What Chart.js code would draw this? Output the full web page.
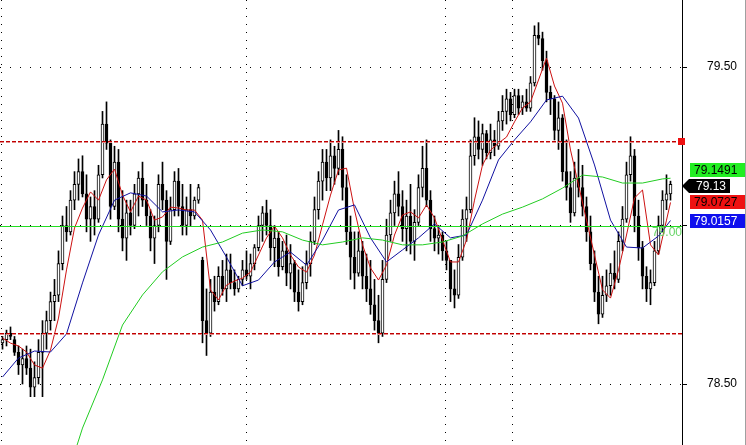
<!DOCTYPE html>
<html><head><meta charset="utf-8">
<script src="https://cdn.jsdelivr.net/npm/chart.js@4.4.0/dist/chart.umd.min.js"></script>
<style>html,body{margin:0;padding:0;background:#fff;overflow:hidden}canvas{display:block}</style>
</head><body>
<canvas id="c" width="746" height="445"></canvas>
<script>
// ---- data (candle index 0..167) ----
const opens = [78.63,78.64,78.66,78.64,78.60,78.56,78.58,78.55,78.49,78.52,78.60,78.66,78.70,78.76,78.78,78.88,79.00,78.98,79.08,79.13,
79.17,79.10,79.02,79.06,79.02,79.16,79.32,79.26,79.06,79.20,79.02,78.96,79.04,79.00,79.10,79.15,79.08,79.03,78.96,79.00,
79.13,79.08,78.95,79.05,79.14,79.06,79.00,79.05,79.03,79.08,78.89,78.70,78.66,78.79,78.76,78.84,78.80,78.86,78.82,78.80,
78.83,78.86,78.84,78.88,78.93,79.00,79.04,79.00,78.93,78.96,78.87,78.92,78.85,78.88,78.79,78.76,78.82,78.88,78.95,79.05,
79.14,79.20,79.15,79.22,79.18,79.24,79.12,78.98,78.90,78.85,78.92,78.84,78.80,78.75,78.70,78.66,78.83,78.97,79.04,79.10,
79.06,78.99,79.03,78.95,79.01,79.12,79.18,79.08,78.99,78.96,78.97,78.92,78.89,78.80,78.78,78.90,79.02,79.05,79.22,79.28,
79.24,79.29,79.23,79.27,79.25,79.33,79.36,79.40,79.35,79.41,79.37,79.39,79.37,79.45,79.60,79.59,79.52,79.42,79.40,79.30,
79.34,79.17,79.12,79.04,79.15,79.12,79.06,78.98,78.88,78.79,78.72,78.78,78.81,78.85,78.83,78.95,79.02,79.16,79.22,79.03,
78.93,78.84,78.80,78.82,78.92,79.00,79.08,79.10];
const highs = [78.65,78.67,78.68,78.65,78.62,78.61,78.62,78.61,78.57,78.64,78.70,78.73,78.79,78.83,78.92,79.03,79.06,79.11,79.17,79.21,
79.22,79.16,79.09,79.11,79.19,79.36,79.39,79.27,79.25,79.24,79.11,79.08,79.08,79.13,79.17,79.20,79.13,79.05,79.03,79.16,
79.20,79.11,79.09,79.17,79.18,79.13,79.09,79.13,79.09,79.13,78.90,78.80,78.83,78.84,78.87,78.89,78.91,78.91,78.86,78.84,
78.89,78.92,78.91,78.94,79.03,79.06,79.08,79.05,79.00,78.98,78.95,78.97,78.94,78.89,78.86,78.87,78.92,78.98,79.09,79.17,
79.24,79.24,79.27,79.25,79.30,79.28,79.16,79.03,78.98,78.98,78.95,78.91,78.89,78.83,78.78,78.89,79.02,79.08,79.14,79.17,
79.11,79.08,79.13,79.05,79.16,79.25,79.27,79.11,79.03,79.00,78.98,78.95,78.89,78.86,78.94,79.05,79.09,79.27,79.34,79.33,
79.32,79.30,79.32,79.30,79.36,79.41,79.43,79.42,79.43,79.43,79.41,79.43,79.47,79.63,79.64,79.61,79.55,79.44,79.41,79.39,
79.35,79.27,79.17,79.20,79.24,79.19,79.09,79.03,78.92,78.84,78.84,78.86,78.88,78.92,78.98,79.06,79.20,79.28,79.24,79.08,
78.95,78.87,78.86,78.95,79.03,79.11,79.16,79.14];
const lows = [78.61,78.62,78.64,78.59,78.53,78.50,78.53,78.46,78.46,78.50,78.46,78.61,78.67,78.70,78.76,78.86,78.95,78.97,79.05,79.08,
79.09,78.98,78.95,78.97,79.01,79.15,79.24,79.02,79.05,78.98,78.92,78.89,78.97,78.99,79.03,79.06,79.00,78.92,78.88,78.98,
79.05,78.83,78.94,79.03,79.03,78.97,78.97,79.00,79.02,79.07,78.63,78.59,78.65,78.73,78.75,78.78,78.76,78.80,78.78,78.79,
78.81,78.83,78.80,78.86,78.92,78.95,78.97,78.89,78.87,78.84,78.86,78.81,78.80,78.76,78.73,78.75,78.80,78.84,78.94,79.02,
79.08,79.11,79.11,79.13,79.16,79.08,78.94,78.83,78.80,78.84,78.80,78.76,78.72,78.67,78.63,78.65,78.82,78.95,79.00,79.03,
78.95,78.92,78.91,78.89,79.00,79.09,79.06,78.95,78.92,78.91,78.89,78.86,78.76,78.74,78.77,78.89,78.95,79.04,79.19,79.21,
79.19,79.21,79.21,79.22,79.24,79.30,79.32,79.33,79.34,79.35,79.35,79.36,79.36,79.44,79.57,79.49,79.39,79.35,79.27,79.24,
79.14,79.08,79.01,79.03,79.09,79.03,78.95,78.86,78.76,78.69,78.71,78.76,78.78,78.80,78.82,78.92,79.01,79.14,78.98,78.89,
78.80,78.76,78.75,78.81,78.91,78.98,79.05,79.08];
const closes = [78.64,78.66,78.65,78.60,78.56,78.58,78.55,78.49,78.52,78.60,78.66,78.70,78.76,78.78,78.88,79.00,78.98,79.08,79.13,79.17,
79.10,79.02,79.06,79.02,79.16,79.32,79.26,79.06,79.20,79.02,78.96,79.04,79.00,79.10,79.15,79.08,79.03,78.96,79.00,79.13,
79.08,78.95,79.05,79.14,79.06,79.00,79.05,79.03,79.08,79.12,78.70,78.66,78.79,78.76,78.84,78.80,78.86,78.82,78.80,78.83,
78.86,78.84,78.88,78.93,79.00,79.04,79.00,78.93,78.96,78.87,78.92,78.85,78.88,78.79,78.76,78.82,78.88,78.95,79.05,79.14,
79.20,79.15,79.22,79.18,79.24,79.12,78.98,78.90,78.85,78.92,78.84,78.80,78.75,78.70,78.66,78.83,78.97,79.04,79.10,79.06,
78.99,79.03,78.95,79.01,79.12,79.18,79.08,78.99,78.96,78.97,78.92,78.89,78.80,78.78,78.90,79.02,79.05,79.22,79.28,79.24,
79.29,79.23,79.27,79.25,79.33,79.36,79.40,79.35,79.41,79.37,79.39,79.37,79.45,79.60,79.59,79.52,79.42,79.40,79.30,79.34,
79.17,79.12,79.04,79.15,79.12,79.06,78.98,78.88,78.79,78.72,78.78,78.81,78.85,78.83,78.95,79.02,79.16,79.22,79.03,78.93,
78.84,78.80,78.82,78.92,79.00,79.08,79.10,79.13];

// fast moving average (red), sampled at candle indices
const redX = [0,2,4,6,8,10,12,14,16,18,20,22,24,26,28,30,32,34,36,38,40,42,44,46,48,50,52,54,56,58,60,62,64,66,68,70,72,74,76,78,80,82,84,86,88,90,92,94,96,98,100,102,104,106,108,110,112,114,116,118,120,122,124,126,128,130,132,134,136,138,140,142,144,146,148,150,152,154,156,158,160,162,164,166,167];
const redMA = [78.645,78.629,78.620,78.601,78.560,78.550,78.607,78.708,78.860,78.992,79.055,79.106,79.080,79.144,79.178,79.096,79.043,79.093,79.080,79.017,
79.027,79.058,79.055,79.049,79.049,79.017,78.797,78.765,78.812,78.825,78.834,78.853,78.907,78.961,78.998,78.961,78.907,78.869,78.853,78.907,
79.002,79.096,79.175,79.181,79.049,78.939,78.866,78.828,78.875,78.970,79.033,79.043,79.024,79.065,79.024,78.954,78.885,78.885,78.954,79.080,
79.191,79.238,79.260,79.279,79.327,79.371,79.390,79.459,79.528,79.440,79.386,79.238,79.128,79.017,78.907,78.797,78.771,78.860,78.970,79.087,
79.112,78.939,78.907,79.017,79.0727];
// medium moving average (blue)
const blueX = [0,4,8,12,16,20,24,28,32,36,40,44,48,52,56,60,64,68,72,76,80,84,88,92,96,100,104,108,112,116,120,124,128,132,136,140,144,148,152,156,160,164,167];
const blueMA = [78.522,78.582,78.604,78.601,78.658,78.819,78.970,79.080,79.103,79.093,79.043,79.049,79.043,78.986,78.900,78.810,78.828,78.885,78.916,78.875,
78.954,79.049,79.065,78.961,78.885,78.923,78.961,79.005,78.961,78.970,79.080,79.207,79.270,79.327,79.396,79.408,79.339,79.191,79.017,78.932,
78.929,78.967,79.0157];
// slow moving average (green)
const greenX = [18,20,25,30,35,40,45,50,55,60,65,70,75,80,85,90,95,100,105,110,115,120,125,130,135,140,145,150,155,160,165,167];
const greenMA = [78.282,78.361,78.513,78.686,78.781,78.854,78.901,78.932,78.948,78.976,78.986,78.980,78.954,78.939,78.948,78.961,78.954,78.939,78.939,78.948,
78.967,79.005,79.036,79.058,79.084,79.118,79.159,79.153,79.134,79.134,79.147,79.1491];

const priceTicks = [78.5, 79.0, 79.5];
const labelledTicks = [78.5, 79.5];
const sessionBreaks = [-0.375, 60.875, 110.625, 127.375];
const dashedLevels = [79.2666, 78.6609];
const refLevel = 79.00;
const yMin = 78.3076, yMax = 79.7114;

// ---- build ----
const N = closes.length;
const wicks = [], bodies = [], bodyColors = [];
for (let i = 0; i < N; i++) {
  wicks.push({x: i, y: [lows[i], highs[i]]});
  bodies.push({x: i, y: [opens[i], closes[i]]});
  bodyColors.push(closes[i] >= opens[i] ? '#ffffff' : '#000000');
}
const pts = (xs, ys) => xs.map((x, i) => ({x, y: ys[i]}));
const FONT = '"Liberation Sans", Arial, sans-serif';

const overlay = {
  id: 'overlay',
  afterDatasetsDraw(chart) {
    const {ctx, chartArea: a, scales: {y}} = chart;
    ctx.save();
    // red dashed levels
    dashedLevels.forEach(v => {
      const py = Math.round(y.getPixelForValue(v));
      for (let x = a.left; x < a.right; x += 6) {
        const w = Math.min(4, a.right - x);
        ctx.fillStyle = '#c00000'; ctx.fillRect(x, py, w, 1);
        ctx.fillStyle = '#e48a8a'; ctx.fillRect(x, py + 1, w, 1);
      }
    });
    // green reference line
    const gy = Math.round(y.getPixelForValue(refLevel));
    ctx.fillStyle = '#22dd22';
    ctx.fillRect(a.left, gy, a.right - a.left, 1);
    ctx.fillStyle = '#66d466'; ctx.font = '12px ' + FONT; ctx.textAlign = 'right'; ctx.textBaseline = 'top';
    ctx.fillText(refLevel.toFixed(2), a.right, gy + 1);
    ctx.restore();
  },
  afterDraw(chart) {
    const {ctx, chartArea: a, scales: {y}} = chart;
    ctx.save();
    // red marker on axis
    const ry = Math.round(y.getPixelForValue(dashedLevels[0]));
    ctx.fillStyle = '#ee1111';
    ctx.fillRect(a.right - 4, ry - 3, 7, 7);
    ctx.font = '12px ' + FONT; ctx.textBaseline = 'middle'; ctx.textAlign = 'left';
    const bx = a.right + 8, bw = 56, bh = 14;
    const box = (val, txt, bg, fg, dy) => {
      const cy = Math.round(y.getPixelForValue(val)) + dy;
      ctx.fillStyle = bg; ctx.fillRect(bx, cy - bh / 2, bw, bh);
      ctx.fillStyle = fg; ctx.fillText(txt, bx + 4, cy + 1);
    };
    const gLast = greenMA[greenMA.length - 1], rLast = redMA[redMA.length - 1], bLast = blueMA[blueMA.length - 1], cLast = closes[N - 1];
    box(gLast, gLast.toFixed(4), '#22ee22', '#000', -8);
    box(rLast, rLast.toFixed(4), '#ee1111', '#000', 0);
    box(bLast, bLast.toFixed(4), '#1010ee', '#fff', 0);
    // black price tag
    const cy = Math.round(y.getPixelForValue(cLast)) + 2;
    ctx.fillStyle = '#000';
    ctx.beginPath();
    ctx.moveTo(a.right, cy); ctx.lineTo(a.right + 7, cy - 7); ctx.lineTo(a.right + 48, cy - 7);
    ctx.lineTo(a.right + 48, cy + 7); ctx.lineTo(a.right + 7, cy + 7); ctx.closePath(); ctx.fill();
    ctx.fillStyle = '#fff'; ctx.fillText(cLast.toFixed(2), a.right + 14, cy + 1);
    // right frame
    ctx.fillStyle = '#a0a0a0';
    ctx.fillRect(745, 0, 1, 445);
    ctx.restore();
  }
};

new Chart(document.getElementById('c'), {
  type: 'bar',
  data: {
    datasets: [
      {type: 'line', data: pts(greenX, greenMA), borderColor: '#22cc22', borderWidth: 1, pointRadius: 0, order: 0},
      {type: 'line', data: pts(blueX, blueMA), borderColor: '#1010a0', borderWidth: 1, pointRadius: 0, order: 0},
      {type: 'line', data: pts(redX, redMA), borderColor: '#cc1111', borderWidth: 1, pointRadius: 0, order: 0},
      {type: 'bar', data: bodies, backgroundColor: bodyColors, borderColor: '#000', borderWidth: 1, borderSkipped: false, barThickness: 3, minBarLength: 1, grouped: false, order: 1},
      {type: 'bar', data: wicks, backgroundColor: '#000', borderWidth: 0, barThickness: 1, grouped: false, order: 2}
    ]
  },
  options: {
    responsive: false, animation: false, events: [],
    layout: {padding: 0},
    plugins: {legend: {display: false}, tooltip: {enabled: false}},
    scales: {
      x: {
        type: 'linear', min: -0.625, max: 169.875, offset: false,
        afterBuildTicks: s => { s.ticks = sessionBreaks.map(v => ({value: v})); },
        afterFit: s => { s.height = 0; s.paddingLeft = 0; s.paddingRight = 0; },
        ticks: {display: false},
        grid: {color: '#000', lineWidth: 1, drawTicks: false, offset: false},
        border: {display: false, dash: [1, 7]}
      },
      y: {
        position: 'right', min: yMin, max: yMax, beginAtZero: false,
        afterBuildTicks: s => { s.ticks = priceTicks.map(v => ({value: v})); },
        afterFit: s => { s.width = 64; s.paddingTop = 0; s.paddingBottom = 0; },
        ticks: {callback: v => labelledTicks.includes(Number(v)) ? Number(v).toFixed(2) : '', color: '#000', font: {family: FONT, size: 12}, padding: 20},
        grid: {color: '#000', lineWidth: 1, tickLength: 5, tickColor: '#000', drawTicks: true},
        border: {display: true, color: '#000', width: 1, dash: [1, 9]}
      }
    }
  },
  plugins: [overlay]
});
</script>
</body></html>
